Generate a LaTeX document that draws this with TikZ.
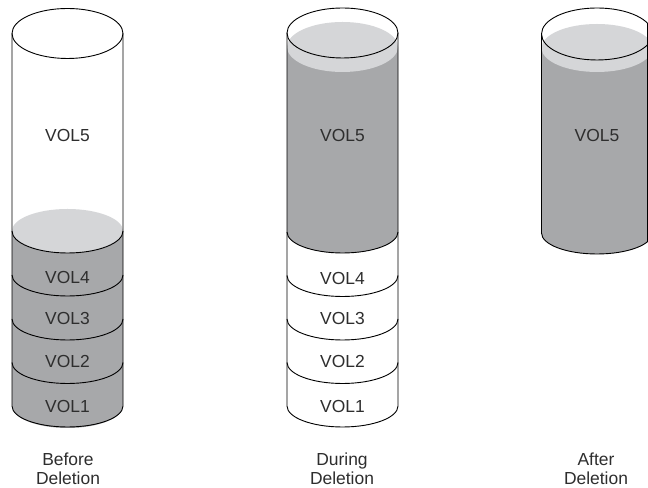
\documentclass[tikz,border=0pt]{standalone}
\usepackage{fontspec}
\setmainfont{Liberation Sans}
\definecolor{bodygray}{HTML}{A7A8AA}
\definecolor{topgray}{HTML}{D5D6D8}
\definecolor{txt}{HTML}{2E2E2E}
\tikzset{
  outl/.style={draw=black, line width=0.9bp},
  vol/.style={text=txt, inner sep=0pt, anchor=base, font=\fontsize{17.5}{19}\selectfont},
  captext/.style={text=txt, inner sep=0pt, anchor=north, align=center, font=\fontsize{17.5}{19}\selectfont}
}
\begin{document}
\begin{tikzpicture}[x=1bp,y=1bp]
\clip (0,0) rectangle (648,488);
\fill[white] (0,0) rectangle (648,488);

% ---------- Cylinder 1: Before Deletion ----------
\fill[bodygray] (12,257) -- (12,82) arc[start angle=180,end angle=360,x radius=55.5bp,y radius=22bp] -- (123,257) -- cycle;
\fill[topgray] (67.5,257) ellipse[x radius=55.5bp,y radius=22bp];
\draw[outl] (12,257) arc[start angle=180,end angle=360,x radius=55.5bp,y radius=22bp];
\foreach \yy in {213,169,125.5}
  \draw[outl] (12,\yy) arc[start angle=180,end angle=360,x radius=55.5bp,y radius=21bp];
\draw[outl] (67.5,454.5) ellipse[x radius=55.5bp,y radius=25bp];
\draw[outl] (12,454.5) -- (12,82) arc[start angle=180,end angle=360,x radius=55.5bp,y radius=21bp] -- (123,454.5);
\node[vol] (a5) at (67.5,346) {VOL5};
\node[vol] (a4) at (67.5,204.5) {VOL4};
\node[vol] (a3) at (67.5,163) {VOL3};
\node[vol] (a2) at (67.5,120) {VOL2};
\node[vol] (a1) at (67.5,75) {VOL1};
\node[captext] (ca) at (68,35.5) {Before\\Deletion};

% ---------- Cylinder 2: During Deletion ----------
\fill[bodygray] (287,441) -- (287,256) arc[start angle=180,end angle=360,x radius=55.5bp,y radius=21bp] -- (398,441) -- cycle;
\fill[topgray] (342.5,441) ellipse[x radius=55.5bp,y radius=25bp];
\foreach \yy in {256,212.5,169,125.5}
  \draw[outl] (287,\yy) arc[start angle=180,end angle=360,x radius=55.5bp,y radius=21bp];
\draw[outl] (342.5,455) ellipse[x radius=55.5bp,y radius=25bp];
\draw[outl] (287,455) -- (287,82) arc[start angle=180,end angle=360,x radius=55.5bp,y radius=21bp] -- (398,455);
\node[vol] (b5) at (342.5,346) {VOL5};
\node[vol] (b4) at (342.5,203.5) {VOL4};
\node[vol] (b3) at (342.5,163) {VOL3};
\node[vol] (b2) at (342.5,120) {VOL2};
\node[vol] (b1) at (342.5,75) {VOL1};
\node[captext] (cb) at (342,35.5) {During\\Deletion};

% ---------- Cylinder 3: After Deletion ----------
\fill[bodygray] (541.5,440) -- (541.5,255) arc[start angle=180,end angle=360,x radius=55.5bp,y radius=21bp] -- (652.5,440) -- cycle;
\fill[topgray] (597,440) ellipse[x radius=55.5bp,y radius=24bp];
\draw[outl] (597,454) ellipse[x radius=55.5bp,y radius=26bp];
\draw[outl] (541.5,454) -- (541.5,255) arc[start angle=180,end angle=360,x radius=55.5bp,y radius=21bp] -- (652.5,454);
\draw[black, line width=0.7bp] (647.6,464.7) -- (647.6,246.4);
\node[vol] (c5) at (597,346) {VOL5};
\node[captext] (cc) at (596,35.5) {After\\Deletion};
\end{tikzpicture}
\end{document}
